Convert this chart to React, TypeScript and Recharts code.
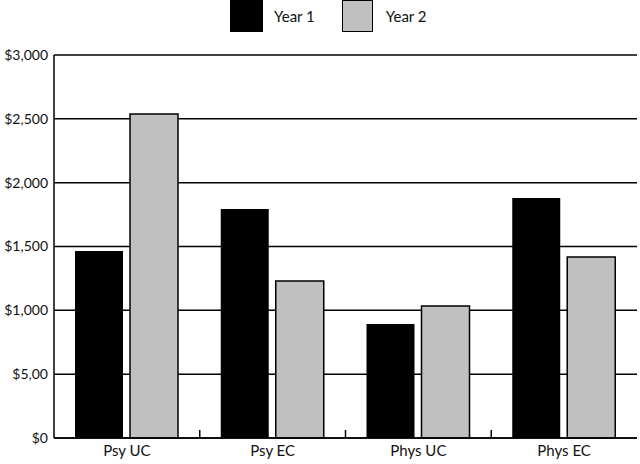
import React from 'react';
import { BarChart, Bar, XAxis, YAxis, CartesianGrid } from 'recharts';

const categories = ['Psy UC', 'Psy EC', 'Phys UC', 'Phys EC'];
const year1 = [1465, 1794, 893, 1880];
const year2 = [2538, 1230, 1034, 1418];
const yTicks = [0, 500, 1000, 1500, 2000, 2500, 3000];
const yLabels = ['$0', '$5,00', '$1,000', '$1,500', '$2,000', '$2,500', '$3,000'];

const data = categories.map((name, i) => ({ name, y1: year1[i], y2: year2[i] }));

const FONT = 'Lato, "Open Sans", sans-serif';

const LegendBox = () => (
    <div style={{ position: 'absolute', left: 230, top: 0, display: 'flex', alignItems: 'center', fontFamily: FONT, fontSize: 15, color: '#111' }}>
        <div style={{ width: 33, height: 32, background: '#000' }} />
        <span style={{ marginLeft: 11, marginRight: 27 }}>Year 1</span>
        <div style={{ width: 31, height: 32, background: '#c0c0c0', border: '1.5px solid #000', boxSizing: 'border-box' }} />
        <span style={{ marginLeft: 13 }}>Year 2</span>
    </div>
);

// category label plus a short inward tick at the right edge of each band (not after the last)
const CategoryTick = (props: any) => {
    const { x, y, payload, index } = props;
    const half = payload.offset || 583 / 8;
    return (
        <g>
            <text x={x} y={y + 18} textAnchor="middle" fill="#111" fontSize={15} fontFamily={FONT}>
                {payload.value}
            </text>
            {index < categories.length - 1 && (
                <line x1={x + half} x2={x + half} y1={y} y2={y - 8} stroke="#000" strokeWidth={1.5} />
            )}
        </g>
    );
};

export default function App() {
    return (
        <div style={{ position: 'absolute', left: 0, top: 0, width: 640, height: 464 }}>
            <LegendBox />
            <BarChart
                width={640}
                height={464}
                data={data}
                margin={{ top: 55, right: 3, left: 0, bottom: 0 }}
                barCategoryGap={21}
                barGap={7}
            >
                <CartesianGrid vertical={false} stroke="#000" strokeWidth={1.5} />
                <YAxis
                    width={54}
                    domain={[0, 3000]}
                    ticks={yTicks}
                    interval={0}
                    tickLine={false}
                    tickSize={0}
                    tickMargin={6}
                    axisLine={{ stroke: '#000', strokeWidth: 1.5 }}
                    tickFormatter={(v: number) => yLabels[yTicks.indexOf(v)]}
                    tick={{ fill: '#111', fontSize: 14, fontFamily: FONT }}
                />
                <YAxis
                    yAxisId="r"
                    orientation="right"
                    width={0}
                    tick={false}
                    tickLine={false}
                    axisLine={{ stroke: '#000', strokeWidth: 1.5 }}
                />
                <XAxis
                    dataKey="name"
                    height={26}
                    interval={0}
                    tickLine={false}
                    tickSize={0}
                    tickMargin={0}
                    axisLine={{ stroke: '#000', strokeWidth: 1.5 }}
                    tick={<CategoryTick />}
                />
                <Bar dataKey="y1" name="Year 1" fill="#000" isAnimationActive={false} />
                <Bar dataKey="y2" name="Year 2" fill="#c0c0c0" stroke="#000" strokeWidth={1.5} isAnimationActive={false} />
            </BarChart>
        </div>
    );
}
